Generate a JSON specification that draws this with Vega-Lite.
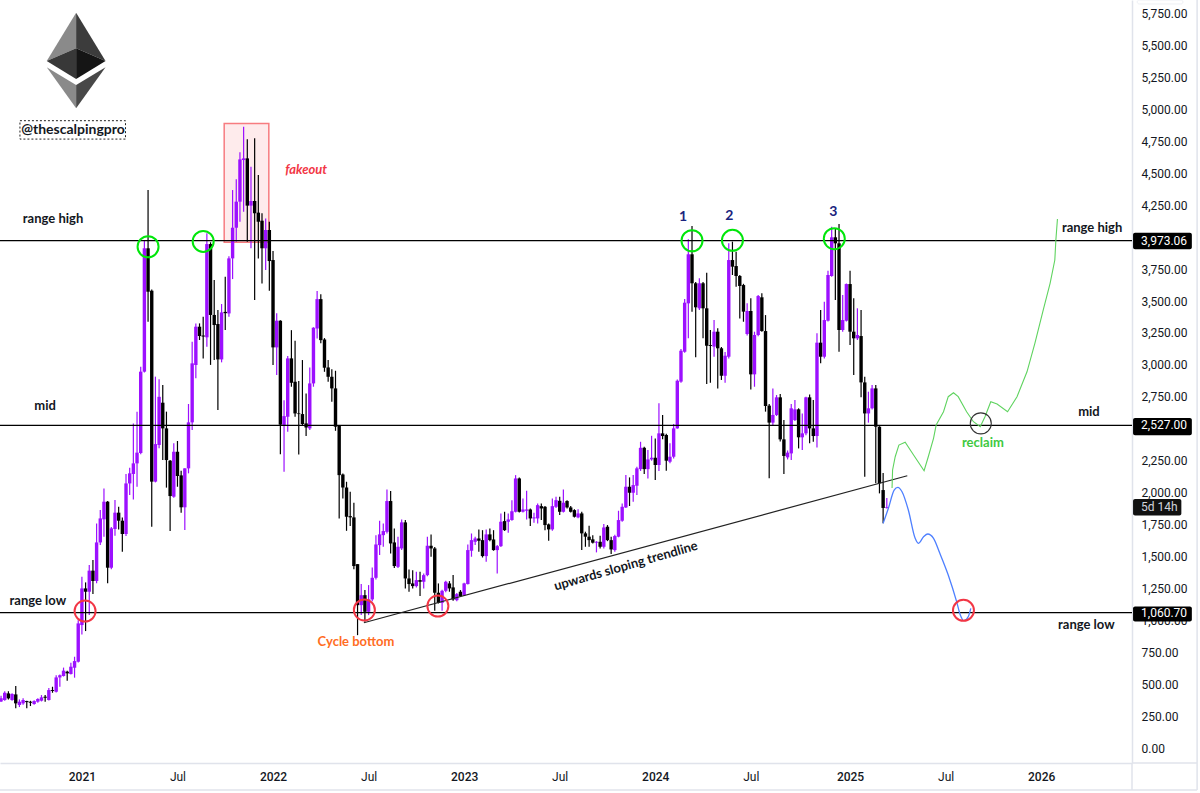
{
  "$schema": "https://vega.github.io/schema/vega-lite/v6.json",
  "width": 1132,
  "height": 763,
  "autosize": "none",
  "padding": {"left": 0, "top": 0, "right": 68, "bottom": 30},
  "background": "white",
  "view": {"stroke": null},
  "config": {"text": {"font": "Lato"}, "scale": {"continuousPadding": 0}},
  "datasets": {
    "candles": [
      {"d":"2020-07-27","o":320,"h":415,"l":300,"c":370},
      {"d":"2020-08-03","o":365,"h":410,"l":360,"c":390},
      {"d":"2020-08-10","o":376,"h":445,"l":370,"c":433},
      {"d":"2020-08-17","o":428,"h":445,"l":380,"c":389},
      {"d":"2020-08-24","o":376,"h":430,"l":370,"c":423},
      {"d":"2020-08-31","o":420,"h":486,"l":311,"c":350},
      {"d":"2020-09-07","o":337,"h":381,"l":321,"c":363},
      {"d":"2020-09-14","o":350,"h":390,"l":340,"c":376},
      {"d":"2020-09-21","o":368,"h":370,"l":311,"c":360},
      {"d":"2020-09-28","o":362,"h":370,"l":329,"c":355},
      {"d":"2020-10-05","o":345,"h":375,"l":340,"c":368},
      {"d":"2020-10-12","o":363,"h":390,"l":355,"c":384},
      {"d":"2020-10-19","o":371,"h":415,"l":365,"c":397},
      {"d":"2020-10-26","o":402,"h":415,"l":363,"c":394},
      {"d":"2020-11-02","o":376,"h":470,"l":372,"c":454},
      {"d":"2020-11-09","o":454,"h":480,"l":433,"c":447},
      {"d":"2020-11-16","o":441,"h":570,"l":435,"c":553},
      {"d":"2020-11-23","o":553,"h":575,"l":480,"c":570},
      {"d":"2020-11-30","o":564,"h":630,"l":560,"c":606},
      {"d":"2020-12-07","o":598,"h":606,"l":527,"c":585},
      {"d":"2020-12-14","o":580,"h":668,"l":575,"c":637},
      {"d":"2020-12-21","o":629,"h":715,"l":551,"c":681},
      {"d":"2020-12-28","o":676,"h":1000,"l":670,"c":976},
      {"d":"2021-01-04","o":963,"h":1342,"l":890,"c":1250},
      {"d":"2021-01-11","o":1250,"h":1297,"l":916,"c":1224},
      {"d":"2021-01-18","o":1224,"h":1433,"l":1042,"c":1389},
      {"d":"2021-01-25","o":1389,"h":1472,"l":1206,"c":1308},
      {"d":"2021-02-01","o":1308,"h":1759,"l":1290,"c":1610},
      {"d":"2021-02-08","o":1610,"h":1864,"l":1590,"c":1798},
      {"d":"2021-02-15","o":1791,"h":2033,"l":1655,"c":1929},
      {"d":"2021-02-22","o":1929,"h":1935,"l":1290,"c":1412},
      {"d":"2021-03-01","o":1412,"h":1730,"l":1400,"c":1720},
      {"d":"2021-03-08","o":1715,"h":1942,"l":1663,"c":1843},
      {"d":"2021-03-15","o":1843,"h":1890,"l":1712,"c":1780},
      {"d":"2021-03-22","o":1780,"h":1806,"l":1537,"c":1676},
      {"d":"2021-03-29","o":1676,"h":2145,"l":1660,"c":2072},
      {"d":"2021-04-05","o":2072,"h":2195,"l":1981,"c":2151},
      {"d":"2021-04-12","o":2146,"h":2542,"l":1947,"c":2229},
      {"d":"2021-04-19","o":2229,"h":2634,"l":2046,"c":2313},
      {"d":"2021-04-26","o":2310,"h":2986,"l":2300,"c":2947},
      {"d":"2021-05-03","o":2947,"h":3978,"l":2940,"c":3913},
      {"d":"2021-05-10","o":3913,"h":4369,"l":3338,"c":3573},
      {"d":"2021-05-17","o":3581,"h":3590,"l":1733,"c":2086},
      {"d":"2021-05-24","o":2086,"h":2908,"l":2080,"c":2380},
      {"d":"2021-05-31","o":2373,"h":2887,"l":2347,"c":2750},
      {"d":"2021-06-07","o":2704,"h":2842,"l":2255,"c":2503},
      {"d":"2021-06-14","o":2503,"h":2634,"l":2039,"c":2255},
      {"d":"2021-06-21","o":2250,"h":2255,"l":1699,"c":1973},
      {"d":"2021-06-28","o":1968,"h":2386,"l":1960,"c":2320},
      {"d":"2021-07-05","o":2320,"h":2404,"l":2046,"c":2130},
      {"d":"2021-07-12","o":2135,"h":2172,"l":1843,"c":1885},
      {"d":"2021-07-19","o":1885,"h":2190,"l":1707,"c":2190},
      {"d":"2021-07-26","o":2190,"h":2694,"l":2151,"c":2550},
      {"d":"2021-08-02","o":2550,"h":3182,"l":2490,"c":3012},
      {"d":"2021-08-09","o":2999,"h":3325,"l":2895,"c":3299},
      {"d":"2021-08-16","o":3299,"h":3325,"l":3195,"c":3226},
      {"d":"2021-08-23","o":3230,"h":3377,"l":3051,"c":3222},
      {"d":"2021-08-30","o":3216,"h":4030,"l":3143,"c":3946},
      {"d":"2021-09-06","o":3946,"h":3960,"l":3000,"c":3391},
      {"d":"2021-09-13","o":3391,"h":3665,"l":3038,"c":3312},
      {"d":"2021-09-20","o":3320,"h":3430,"l":2647,"c":3043},
      {"d":"2021-09-27","o":3043,"h":3477,"l":3020,"c":3411},
      {"d":"2021-10-04","o":3415,"h":3691,"l":3273,"c":3405},
      {"d":"2021-10-11","o":3403,"h":3850,"l":3377,"c":3834},
      {"d":"2021-10-18","o":3834,"h":4369,"l":3672,"c":4074},
      {"d":"2021-10-25","o":4074,"h":4453,"l":3965,"c":4278},
      {"d":"2021-11-01","o":4278,"h":4664,"l":4121,"c":4609},
      {"d":"2021-11-08","o":4604,"h":4865,"l":4200,"c":4617},
      {"d":"2021-11-15","o":4617,"h":4766,"l":3965,"c":4247},
      {"d":"2021-11-22","o":4247,"h":4552,"l":3913,"c":4283},
      {"d":"2021-11-29","o":4283,"h":4774,"l":3508,"c":4187},
      {"d":"2021-12-06","o":4192,"h":4487,"l":3834,"c":4121},
      {"d":"2021-12-13","o":4129,"h":4187,"l":3638,"c":3913},
      {"d":"2021-12-20","o":3913,"h":4147,"l":3743,"c":4056},
      {"d":"2021-12-27","o":4056,"h":4121,"l":3581,"c":3813},
      {"d":"2022-01-03","o":3821,"h":3892,"l":3000,"c":3137},
      {"d":"2022-01-10","o":3137,"h":3404,"l":2921,"c":3346},
      {"d":"2022-01-17","o":3346,"h":3350,"l":2300,"c":2532},
      {"d":"2022-01-24","o":2526,"h":2724,"l":2163,"c":2599},
      {"d":"2022-01-31","o":2594,"h":3069,"l":2476,"c":3051},
      {"d":"2022-02-07","o":3051,"h":3272,"l":2829,"c":2860},
      {"d":"2022-02-14","o":2868,"h":3189,"l":2594,"c":2620},
      {"d":"2022-02-21","o":2620,"h":2873,"l":2299,"c":2615},
      {"d":"2022-02-28","o":2615,"h":3038,"l":2529,"c":2537},
      {"d":"2022-03-07","o":2542,"h":2777,"l":2443,"c":2510},
      {"d":"2022-03-14","o":2503,"h":2980,"l":2490,"c":2855},
      {"d":"2022-03-21","o":2855,"h":3295,"l":2829,"c":3291},
      {"d":"2022-03-28","o":3285,"h":3578,"l":3207,"c":3515},
      {"d":"2022-04-04","o":3515,"h":3554,"l":3170,"c":3194},
      {"d":"2022-04-11","o":3199,"h":3210,"l":2946,"c":2978},
      {"d":"2022-04-18","o":2980,"h":3038,"l":2868,"c":2907},
      {"d":"2022-04-25","o":2907,"h":2965,"l":2711,"c":2816},
      {"d":"2022-05-02","o":2816,"h":2954,"l":2484,"c":2516},
      {"d":"2022-05-09","o":2523,"h":2530,"l":1798,"c":2137},
      {"d":"2022-05-16","o":2142,"h":2150,"l":1954,"c":2040},
      {"d":"2022-05-23","o":2040,"h":2085,"l":1701,"c":1811},
      {"d":"2022-05-30","o":1816,"h":2007,"l":1738,"c":1806},
      {"d":"2022-06-06","o":1806,"h":1921,"l":1400,"c":1425},
      {"d":"2022-06-13","o":1440,"h":1440,"l":884,"c":1119},
      {"d":"2022-06-20","o":1119,"h":1284,"l":1041,"c":1197},
      {"d":"2022-06-27","o":1197,"h":1237,"l":989,"c":1067},
      {"d":"2022-07-04","o":1067,"h":1276,"l":1041,"c":1164},
      {"d":"2022-07-11","o":1164,"h":1414,"l":1150,"c":1333},
      {"d":"2022-07-18","o":1333,"h":1667,"l":1320,"c":1594},
      {"d":"2022-07-25","o":1589,"h":1780,"l":1511,"c":1673},
      {"d":"2022-08-01","o":1667,"h":1759,"l":1576,"c":1699},
      {"d":"2022-08-08","o":1693,"h":2025,"l":1680,"c":1934},
      {"d":"2022-08-15","o":1934,"h":2012,"l":1524,"c":1602},
      {"d":"2022-08-22","o":1610,"h":1720,"l":1410,"c":1425},
      {"d":"2022-08-29","o":1419,"h":1654,"l":1410,"c":1576},
      {"d":"2022-09-05","o":1563,"h":1790,"l":1550,"c":1767},
      {"d":"2022-09-12","o":1767,"h":1785,"l":1250,"c":1328},
      {"d":"2022-09-19","o":1328,"h":1399,"l":1224,"c":1284},
      {"d":"2022-09-26","o":1289,"h":1393,"l":1250,"c":1268},
      {"d":"2022-10-03","o":1268,"h":1380,"l":1258,"c":1315},
      {"d":"2022-10-10","o":1315,"h":1380,"l":1190,"c":1302},
      {"d":"2022-10-17","o":1302,"h":1367,"l":1250,"c":1354},
      {"d":"2022-10-24","o":1354,"h":1654,"l":1345,"c":1584},
      {"d":"2022-10-31","o":1584,"h":1673,"l":1498,"c":1563},
      {"d":"2022-11-07","o":1563,"h":1575,"l":1075,"c":1216},
      {"d":"2022-11-14","o":1216,"h":1289,"l":1132,"c":1137},
      {"d":"2022-11-21","o":1137,"h":1240,"l":1075,"c":1231},
      {"d":"2022-11-28","o":1231,"h":1310,"l":1220,"c":1302},
      {"d":"2022-12-05","o":1289,"h":1307,"l":1224,"c":1250},
      {"d":"2022-12-12","o":1258,"h":1354,"l":1153,"c":1164},
      {"d":"2022-12-19","o":1158,"h":1215,"l":1150,"c":1205},
      {"d":"2022-12-26","o":1224,"h":1237,"l":1184,"c":1190},
      {"d":"2023-01-02","o":1197,"h":1295,"l":1190,"c":1289},
      {"d":"2023-01-09","o":1284,"h":1594,"l":1280,"c":1550},
      {"d":"2023-01-16","o":1545,"h":1680,"l":1498,"c":1628},
      {"d":"2023-01-23","o":1615,"h":1654,"l":1590,"c":1641},
      {"d":"2023-01-30","o":1641,"h":1712,"l":1537,"c":1623},
      {"d":"2023-02-06","o":1628,"h":1706,"l":1492,"c":1503},
      {"d":"2023-02-13","o":1503,"h":1712,"l":1458,"c":1673},
      {"d":"2023-02-20","o":1673,"h":1719,"l":1620,"c":1628},
      {"d":"2023-02-27","o":1633,"h":1706,"l":1545,"c":1550},
      {"d":"2023-03-06","o":1550,"h":1590,"l":1367,"c":1581},
      {"d":"2023-03-13","o":1581,"h":1837,"l":1575,"c":1772},
      {"d":"2023-03-20","o":1777,"h":1850,"l":1700,"c":1706},
      {"d":"2023-03-27","o":1772,"h":1837,"l":1686,"c":1790},
      {"d":"2023-04-03","o":1785,"h":1941,"l":1780,"c":1855},
      {"d":"2023-04-10","o":1850,"h":2137,"l":1845,"c":2111},
      {"d":"2023-04-17","o":2111,"h":2119,"l":1845,"c":1850},
      {"d":"2023-04-24","o":1850,"h":1954,"l":1845,"c":1868},
      {"d":"2023-05-01","o":1858,"h":2014,"l":1790,"c":1868},
      {"d":"2023-05-08","o":1868,"h":1876,"l":1738,"c":1798},
      {"d":"2023-05-15","o":1798,"h":1842,"l":1764,"c":1806},
      {"d":"2023-05-22","o":1798,"h":1915,"l":1759,"c":1902},
      {"d":"2023-05-29","o":1894,"h":1915,"l":1785,"c":1876},
      {"d":"2023-06-05","o":1889,"h":1895,"l":1706,"c":1746},
      {"d":"2023-06-12","o":1751,"h":1759,"l":1623,"c":1712},
      {"d":"2023-06-19","o":1712,"h":1954,"l":1701,"c":1894},
      {"d":"2023-06-26","o":1889,"h":1967,"l":1880,"c":1941},
      {"d":"2023-07-03","o":1936,"h":1967,"l":1824,"c":1850},
      {"d":"2023-07-10","o":1850,"h":2025,"l":1845,"c":1921},
      {"d":"2023-07-17","o":1934,"h":1941,"l":1876,"c":1884},
      {"d":"2023-07-24","o":1884,"h":1895,"l":1845,"c":1850},
      {"d":"2023-07-31","o":1863,"h":1870,"l":1805,"c":1811},
      {"d":"2023-08-07","o":1806,"h":1870,"l":1800,"c":1837},
      {"d":"2023-08-14","o":1837,"h":1850,"l":1550,"c":1681},
      {"d":"2023-08-21","o":1681,"h":1694,"l":1576,"c":1655},
      {"d":"2023-08-28","o":1655,"h":1741,"l":1576,"c":1628},
      {"d":"2023-09-04","o":1634,"h":1667,"l":1602,"c":1608},
      {"d":"2023-09-11","o":1608,"h":1620,"l":1532,"c":1615},
      {"d":"2023-09-18","o":1615,"h":1662,"l":1563,"c":1576},
      {"d":"2023-09-25","o":1576,"h":1754,"l":1563,"c":1727},
      {"d":"2023-10-02","o":1733,"h":1746,"l":1620,"c":1628},
      {"d":"2023-10-09","o":1628,"h":1654,"l":1519,"c":1555},
      {"d":"2023-10-16","o":1550,"h":1670,"l":1537,"c":1660},
      {"d":"2023-10-23","o":1655,"h":1858,"l":1650,"c":1785},
      {"d":"2023-10-30","o":1780,"h":1915,"l":1772,"c":1889},
      {"d":"2023-11-06","o":1884,"h":2137,"l":1880,"c":2046},
      {"d":"2023-11-13","o":2046,"h":2119,"l":1895,"c":1999},
      {"d":"2023-11-20","o":1999,"h":2137,"l":1929,"c":2059},
      {"d":"2023-11-27","o":2054,"h":2203,"l":1981,"c":2190},
      {"d":"2023-12-04","o":2184,"h":2398,"l":2170,"c":2351},
      {"d":"2023-12-11","o":2351,"h":2360,"l":2145,"c":2184},
      {"d":"2023-12-18","o":2184,"h":2333,"l":2111,"c":2260},
      {"d":"2023-12-25","o":2260,"h":2445,"l":2250,"c":2273},
      {"d":"2024-01-01","o":2273,"h":2424,"l":2098,"c":2216},
      {"d":"2024-01-08","o":2216,"h":2700,"l":2169,"c":2464},
      {"d":"2024-01-15","o":2464,"h":2607,"l":2417,"c":2443},
      {"d":"2024-01-22","o":2451,"h":2460,"l":2172,"c":2250},
      {"d":"2024-01-29","o":2242,"h":2386,"l":2229,"c":2281},
      {"d":"2024-02-05","o":2281,"h":2537,"l":2268,"c":2503},
      {"d":"2024-02-12","o":2503,"h":2885,"l":2500,"c":2876},
      {"d":"2024-02-19","o":2869,"h":3125,"l":2860,"c":3111},
      {"d":"2024-02-26","o":3103,"h":3516,"l":3095,"c":3487},
      {"d":"2024-03-04","o":3482,"h":3983,"l":3208,"c":3866},
      {"d":"2024-03-11","o":3866,"h":4087,"l":3417,"c":3639},
      {"d":"2024-03-18","o":3639,"h":3650,"l":3059,"c":3451},
      {"d":"2024-03-25","o":3443,"h":3678,"l":3430,"c":3639},
      {"d":"2024-04-01","o":3639,"h":3650,"l":3208,"c":3443},
      {"d":"2024-04-08","o":3443,"h":3722,"l":2850,"c":3150},
      {"d":"2024-04-15","o":3155,"h":3273,"l":2861,"c":3148},
      {"d":"2024-04-22","o":3143,"h":3351,"l":3064,"c":3260},
      {"d":"2024-04-29","o":3260,"h":3286,"l":2816,"c":3130},
      {"d":"2024-05-06","o":3130,"h":3140,"l":2882,"c":2915},
      {"d":"2024-05-13","o":2915,"h":3100,"l":2861,"c":3072},
      {"d":"2024-05-20","o":3064,"h":3952,"l":3051,"c":3821},
      {"d":"2024-05-27","o":3821,"h":3965,"l":3704,"c":3769},
      {"d":"2024-06-03","o":3774,"h":3886,"l":3612,"c":3696},
      {"d":"2024-06-10","o":3696,"h":3704,"l":3364,"c":3618},
      {"d":"2024-06-17","o":3625,"h":3635,"l":3338,"c":3417},
      {"d":"2024-06-24","o":3242,"h":3482,"l":3230,"c":3422},
      {"d":"2024-07-01","o":3422,"h":3521,"l":2808,"c":2926},
      {"d":"2024-07-08","o":2926,"h":3260,"l":2829,"c":3234},
      {"d":"2024-07-15","o":3234,"h":3547,"l":3225,"c":3539},
      {"d":"2024-07-22","o":3529,"h":3560,"l":3260,"c":3265},
      {"d":"2024-07-29","o":3265,"h":3390,"l":2634,"c":2678},
      {"d":"2024-08-05","o":2681,"h":2694,"l":2112,"c":2548},
      {"d":"2024-08-12","o":2548,"h":2816,"l":2521,"c":2608},
      {"d":"2024-08-19","o":2608,"h":2764,"l":2600,"c":2746},
      {"d":"2024-08-26","o":2746,"h":2772,"l":2400,"c":2417},
      {"d":"2024-09-02","o":2417,"h":2568,"l":2145,"c":2287},
      {"d":"2024-09-09","o":2276,"h":2330,"l":2260,"c":2313},
      {"d":"2024-09-16","o":2307,"h":2694,"l":2255,"c":2660},
      {"d":"2024-09-23","o":2568,"h":2725,"l":2560,"c":2652},
      {"d":"2024-09-30","o":2652,"h":2660,"l":2346,"c":2433},
      {"d":"2024-10-07","o":2433,"h":2620,"l":2333,"c":2464},
      {"d":"2024-10-14","o":2464,"h":2750,"l":2450,"c":2746},
      {"d":"2024-10-21","o":2746,"h":2769,"l":2386,"c":2503},
      {"d":"2024-10-28","o":2503,"h":2725,"l":2399,"c":2443},
      {"d":"2024-11-04","o":2443,"h":3247,"l":2354,"c":3174},
      {"d":"2024-11-11","o":3174,"h":3430,"l":3012,"c":3064},
      {"d":"2024-11-18","o":3064,"h":3495,"l":3050,"c":3351},
      {"d":"2024-11-25","o":3346,"h":3738,"l":3340,"c":3704},
      {"d":"2024-12-02","o":3696,"h":4082,"l":3690,"c":3999},
      {"d":"2024-12-09","o":3999,"h":4069,"l":3508,"c":3952},
      {"d":"2024-12-16","o":3952,"h":4103,"l":3103,"c":3273},
      {"d":"2024-12-23","o":3273,"h":3547,"l":3260,"c":3351},
      {"d":"2024-12-30","o":3346,"h":3638,"l":3340,"c":3633},
      {"d":"2025-01-06","o":3633,"h":3738,"l":3156,"c":3260},
      {"d":"2025-01-13","o":3260,"h":3521,"l":2921,"c":3208},
      {"d":"2025-01-20","o":3208,"h":3443,"l":3195,"c":3234},
      {"d":"2025-01-27","o":3226,"h":3430,"l":2746,"c":2863},
      {"d":"2025-02-03","o":2863,"h":2908,"l":2125,"c":2620},
      {"d":"2025-02-10","o":2620,"h":2790,"l":2548,"c":2660},
      {"d":"2025-02-17","o":2660,"h":2842,"l":2650,"c":2816},
      {"d":"2025-02-24","o":2816,"h":2842,"l":2073,"c":2516},
      {"d":"2025-03-03","o":2516,"h":2520,"l":1994,"c":2073},
      {"d":"2025-03-10","o":2020,"h":2153,"l":1760,"c":1880},
      {"d":"2025-03-17","o":1879,"h":1957,"l":1875,"c":1885}
    ],
    "levels": [{"p":3973.06},{"p":2527},{"p":1060.7}],
    "trend": [{"d":"2022-06-25","p":981},{"d":"2025-04-25","p":2132}],
    "up": [
      {"d":"2025-03-27","p":2036},{"d":"2025-03-28","p":2177},{"d":"2025-04-02","p":2281},{"d":"2025-04-09","p":2372},
      {"d":"2025-04-21","p":2394},{"d":"2025-05-07","p":2294},{"d":"2025-05-27","p":2171},{"d":"2025-06-04","p":2281},
      {"d":"2025-06-14","p":2425},{"d":"2025-06-19","p":2529},{"d":"2025-07-03","p":2633},{"d":"2025-07-12","p":2751},
      {"d":"2025-07-22","p":2782},{"d":"2025-07-31","p":2751},{"d":"2025-08-16","p":2633},{"d":"2025-08-29","p":2555},
      {"d":"2025-09-11","p":2516},{"d":"2025-09-20","p":2594},{"d":"2025-10-01","p":2712},{"d":"2025-10-13","p":2694},
      {"d":"2025-11-02","p":2633},{"d":"2025-11-20","p":2751},{"d":"2025-12-09","p":2946},{"d":"2025-12-24","p":3169},
      {"d":"2026-01-09","p":3430},{"d":"2026-01-22","p":3639},{"d":"2026-01-31","p":3821},{"d":"2026-02-02","p":3978},
      {"d":"2026-02-05","p":4142}
    ],
    "down": [
      {"d":"2025-03-10","p":1759},{"d":"2025-03-20","p":1877},{"d":"2025-03-31","p":2020},{"d":"2025-04-07","p":2041},
      {"d":"2025-04-15","p":2007},{"d":"2025-04-27","p":1864},{"d":"2025-05-10","p":1642},{"d":"2025-05-16","p":1603},
      {"d":"2025-05-26","p":1654},{"d":"2025-06-03","p":1676},{"d":"2025-06-14","p":1642},{"d":"2025-06-26","p":1525},
      {"d":"2025-07-12","p":1355},{"d":"2025-07-28","p":1146},{"d":"2025-08-04","p":1041},{"d":"2025-08-11","p":997},
      {"d":"2025-08-19","p":1028},{"d":"2025-08-24","p":1094}
    ],
    "circles": [
      {"d":"2021-05-10","p":3925,"kind":"high"},{"d":"2021-08-23","p":3967,"kind":"high"},
      {"d":"2024-03-11","p":3972,"kind":"high"},{"d":"2024-05-27","p":3975,"kind":"high"},
      {"d":"2024-12-07","p":3988,"kind":"high"},
      {"d":"2021-01-10","p":1073,"kind":"low"},{"d":"2022-06-26","p":1081,"kind":"low"},
      {"d":"2022-11-13","p":1112,"kind":"low"},{"d":"2025-08-10","p":1078,"kind":"low"}
    ],
    "reclaim": [{"d":"2025-09-12","p":2542}],
    "logo": [
      {"d":"2020-10-29","top":5379,"bot":5379,"facet":"a"},{"d":"2020-12-24","top":5757,"bot":5479,"facet":"a"},
      {"d":"2020-12-24","top":5757,"bot":5479,"facet":"b"},{"d":"2021-02-18","top":5379,"bot":5379,"facet":"b"},
      {"d":"2020-10-29","top":5379,"bot":5379,"facet":"c"},{"d":"2020-12-24","top":5479,"bot":5238,"facet":"c"},
      {"d":"2020-12-24","top":5479,"bot":5238,"facet":"d"},{"d":"2021-02-18","top":5379,"bot":5379,"facet":"d"},
      {"d":"2020-10-29","top":5330,"bot":5330,"facet":"e"},{"d":"2020-12-24","top":5191,"bot":5009,"facet":"e"},
      {"d":"2020-12-24","top":5191,"bot":5009,"facet":"f"},{"d":"2021-02-18","top":5330,"bot":5330,"facet":"f"}
    ],
    "texts": [
      {"d":"2020-11-10","p":4142,"t":"range high"},
      {"d":"2020-10-26","p":2678,"t":"mid"},
      {"d":"2020-10-12","p":1151,"t":"range low"},
      {"d":"2026-04-12","p":4072,"t":"range high"},
      {"d":"2026-04-06","p":2631,"t":"mid"},
      {"d":"2026-04-01","p":963,"t":"range low"}
    ],
    "counts": [
      {"d":"2024-02-23","p":4158,"t":"1"},
      {"d":"2024-05-21","p":4166,"t":"2"},
      {"d":"2024-12-05","p":4197,"t":"3"}
    ],
    "frame": [
      {"x":"2026-06-27","x2":"2026-06-27","y":-117,"y2":-329},
      {"x":"2026-06-27","x2":"2026-10-29","y":-117,"y2":-117},
      {"x":"2020-08-01","x2":"2026-10-29","y":-329,"y2":-329},
      {"x":"2026-10-29","x2":"2026-10-29","y":5857,"y2":-329}
    ],
    "badges": [
      {"d":"2026-06-29","d2":"2026-10-19","p":3973.06,"top":4035,"bot":3905,"t":"3,973.06"},
      {"d":"2026-06-29","d2":"2026-10-19","p":2527,"top":2585,"bot":2450,"t":"2,527.00"},
      {"d":"2026-06-29","d2":"2026-10-19","p":1060.7,"top":1108,"bot":990,"t":"1,060.70"}
    ],
    "timer": [{"d":"2026-06-29","d2":"2026-09-29","top":1950,"bot":1820,"p":1885,"t":"5d 14h"}]
  },
  "layer": [
    {
      "data": {"name": "logo"},
      "mark": {"type": "area", "interpolate": "linear", "opacity": 1},
      "encoding": {
        "x": {
          "field": "d", "type": "temporal",
          "scale": {"domain": ["2020-08-01", "2026-06-27"]},
          "axis": {
            "title": null, "grid": false, "ticks": false, "labelPadding": 8,
            "domainColor": "#e0e3eb", "domainWidth": 1.5,
            "labelFont": "Roboto", "labelFontSize": 12, "labelColor": "#131722",
            "labelFontWeight": {"condition": {"test": "month(datum.value) == 0", "value": 500}, "value": 400},
            "labelOverlap": false,
            "values": [
              {"year":2021,"month":1,"date":4},{"year":2021,"month":7,"date":5},
              {"year":2022,"month":1,"date":3},{"year":2022,"month":7,"date":4},
              {"year":2023,"month":1,"date":2},{"year":2023,"month":7,"date":3},
              {"year":2024,"month":1,"date":1},{"year":2024,"month":7,"date":1},
              {"year":2025,"month":1,"date":6},{"year":2025,"month":7,"date":7},
              {"year":2026,"month":1,"date":5}
            ],
            "labelExpr": "month(datum.value) == 0 ? timeFormat(datum.value, '%Y') : timeFormat(datum.value, '%b')"
          }
        },
        "y": {
          "field": "top", "type": "quantitative",
          "scale": {"domain": [-117, 5857], "nice": false, "zero": false},
          "axis": {
            "title": null, "orient": "right", "grid": false, "ticks": false,
            "domainColor": "#e0e3eb", "domainWidth": 1.5, "labelPadding": 9,
            "labelFont": "Roboto", "labelFontSize": 12, "labelColor": "#131722",
            "format": ",.2f", "labelOverlap": false, "labelFlush": false, "tickCount": 30,
            "values": [0,250,500,750,1000,1250,1500,1750,2000,2250,2500,2750,3000,3250,3500,3750,4000,4250,4500,4750,5000,5250,5500,5750]
          }
        },
        "y2": {"field": "bot"},
        "color": {
          "field": "facet", "type": "nominal", "legend": null,
          "scale": {"domain": ["a","b","c","d","e","f"], "range": ["#8a8a8a","#3c3c3c","#383838","#151515","#8a8a8a","#484848"]}
        }
      }
    },
    {
      "data": {"values": [{"d":"2021-10-02","d2":"2021-12-26","top":4891,"bot":3960}]},
      "mark": {"type": "rect", "fill": "#f23645", "fillOpacity": 0.1, "stroke": "#f77c80", "strokeWidth": 1.5},
      "encoding": {
        "x": {"field": "d", "type": "temporal", "scale": {"domain": ["2020-08-01", "2026-06-27"]}},
        "x2": {"field": "d2"},
        "y": {"field": "top", "type": "quantitative", "scale": {"domain": [-117, 5857], "nice": false, "zero": false}},
        "y2": {"field": "bot"}
      }
    },
    {
      "data": {"name": "candles"},
      "mark": {"type": "rule", "strokeWidth": 1.2},
      "encoding": {
        "x": {"field": "d", "type": "temporal", "scale": {"domain": ["2020-08-01", "2026-06-27"]}},
        "y": {"field": "l", "type": "quantitative", "scale": {"domain": [-117, 5857], "nice": false, "zero": false}},
        "y2": {"field": "h"},
        "color": {"condition": {"test": "datum.c >= datum.o", "value": "#9c10ff"}, "value": "#000000"}
      }
    },
    {
      "data": {"name": "candles"},
      "mark": {"type": "bar", "size": 3.4},
      "encoding": {
        "x": {"field": "d", "type": "temporal", "scale": {"domain": ["2020-08-01", "2026-06-27"]}},
        "y": {"field": "o", "type": "quantitative", "scale": {"domain": [-117, 5857], "nice": false, "zero": false}},
        "y2": {"field": "c"},
        "color": {"condition": {"test": "datum.c >= datum.o", "value": "#9c10ff"}, "value": "#000000"}
      }
    },
    {
      "data": {"name": "levels"},
      "mark": {"type": "rule", "color": "#000000", "strokeWidth": 1.2},
      "encoding": {
        "y": {"field": "p", "type": "quantitative", "scale": {"domain": [-117, 5857], "nice": false, "zero": false}}
      }
    },
    {
      "data": {"name": "trend"},
      "mark": {"type": "line", "color": "#222222", "strokeWidth": 1.2},
      "encoding": {
        "x": {"field": "d", "type": "temporal", "scale": {"domain": ["2020-08-01", "2026-06-27"]}},
        "y": {"field": "p", "type": "quantitative", "scale": {"domain": [-117, 5857], "nice": false, "zero": false}}
      }
    },
    {
      "data": {"name": "up"},
      "mark": {"type": "line", "color": "#5fd35f", "strokeWidth": 1.1},
      "encoding": {
        "x": {"field": "d", "type": "temporal", "scale": {"domain": ["2020-08-01", "2026-06-27"]}},
        "y": {"field": "p", "type": "quantitative", "scale": {"domain": [-117, 5857], "nice": false, "zero": false}}
      }
    },
    {
      "data": {"name": "down"},
      "mark": {"type": "line", "color": "#4d7fff", "strokeWidth": 1.3, "interpolate": "monotone"},
      "encoding": {
        "x": {"field": "d", "type": "temporal", "scale": {"domain": ["2020-08-01", "2026-06-27"]}},
        "y": {"field": "p", "type": "quantitative", "scale": {"domain": [-117, 5857], "nice": false, "zero": false}}
      }
    },
    {
      "data": {"name": "circles"},
      "mark": {"type": "point", "shape": "circle", "filled": false, "size": 441, "strokeWidth": 2, "opacity": 1},
      "encoding": {
        "x": {"field": "d", "type": "temporal", "scale": {"domain": ["2020-08-01", "2026-06-27"]}},
        "y": {"field": "p", "type": "quantitative", "scale": {"domain": [-117, 5857], "nice": false, "zero": false}},
        "stroke": {"field": "kind", "type": "nominal", "legend": null, "scale": {"domain": ["high", "low"], "range": ["#00e60a", "#f23645"]}}
      }
    },
    {
      "data": {"name": "reclaim"},
      "mark": {"type": "point", "shape": "circle", "filled": false, "size": 441, "strokeWidth": 1.1, "color": "#333333", "opacity": 1},
      "encoding": {
        "x": {"field": "d", "type": "temporal", "scale": {"domain": ["2020-08-01", "2026-06-27"]}},
        "y": {"field": "p", "type": "quantitative", "scale": {"domain": [-117, 5857], "nice": false, "zero": false}}
      }
    },
    {
      "data": {"values": [{"d":"2020-09-08","d2":"2021-03-28","top":4912,"bot":4768}]},
      "mark": {"type": "rect", "fill": null, "stroke": "#222222", "strokeWidth": 1, "strokeDash": [2, 2]},
      "encoding": {
        "x": {"field": "d", "type": "temporal", "scale": {"domain": ["2020-08-01", "2026-06-27"]}},
        "x2": {"field": "d2"},
        "y": {"field": "top", "type": "quantitative", "scale": {"domain": [-117, 5857], "nice": false, "zero": false}},
        "y2": {"field": "bot"}
      }
    },
    {
      "data": {"values": [{"d":"2026-07-07","d2":"2026-10-02","top":5857,"bot":5826}]},
      "mark": {"type": "rect", "fill": null, "stroke": "#eef0f5", "strokeWidth": 1, "cornerRadius": 3},
      "encoding": {
        "x": {"field": "d", "type": "temporal", "scale": {"domain": ["2020-08-01", "2026-06-27"]}},
        "x2": {"field": "d2"},
        "y": {"field": "top", "type": "quantitative", "scale": {"domain": [-117, 5857], "nice": false, "zero": false}},
        "y2": {"field": "bot"}
      }
    },
    {
      "data": {"name": "texts"},
      "mark": {"type": "text", "fontSize": 13, "fontWeight": "bold", "color": "#131722"},
      "encoding": {
        "x": {"field": "d", "type": "temporal", "scale": {"domain": ["2020-08-01", "2026-06-27"]}},
        "y": {"field": "p", "type": "quantitative", "scale": {"domain": [-117, 5857], "nice": false, "zero": false}},
        "text": {"field": "t"}
      }
    },
    {
      "data": {"values": [{"d":"2020-12-18","p":4843,"t":"@thescalpingpro"}]},
      "mark": {"type": "text", "fontSize": 14, "fontWeight": "bold", "color": "#131722"},
      "encoding": {
        "x": {"field": "d", "type": "temporal", "scale": {"domain": ["2020-08-01", "2026-06-27"]}},
        "y": {"field": "p", "type": "quantitative", "scale": {"domain": [-117, 5857], "nice": false, "zero": false}},
        "text": {"field": "t"}
      }
    },
    {
      "data": {"name": "counts"},
      "mark": {"type": "text", "fontSize": 14, "fontWeight": "bold", "color": "#1a237e"},
      "encoding": {
        "x": {"field": "d", "type": "temporal", "scale": {"domain": ["2020-08-01", "2026-06-27"]}},
        "y": {"field": "p", "type": "quantitative", "scale": {"domain": [-117, 5857], "nice": false, "zero": false}},
        "text": {"field": "t"}
      }
    },
    {
      "data": {"values": [{"d":"2022-03-07","p":4526,"t":"fakeout"}]},
      "mark": {"type": "text", "fontSize": 13, "fontStyle": "italic", "fontWeight": "bold", "color": "#f23645"},
      "encoding": {
        "x": {"field": "d", "type": "temporal", "scale": {"domain": ["2020-08-01", "2026-06-27"]}},
        "y": {"field": "p", "type": "quantitative", "scale": {"domain": [-117, 5857], "nice": false, "zero": false}},
        "text": {"field": "t"}
      }
    },
    {
      "data": {"values": [{"d":"2025-09-16","p":2388,"t":"reclaim"}]},
      "mark": {"type": "text", "fontSize": 13, "fontWeight": "bold", "color": "#3fc93f"},
      "encoding": {
        "x": {"field": "d", "type": "temporal", "scale": {"domain": ["2020-08-01", "2026-06-27"]}},
        "y": {"field": "p", "type": "quantitative", "scale": {"domain": [-117, 5857], "nice": false, "zero": false}},
        "text": {"field": "t"}
      }
    },
    {
      "data": {"values": [{"d":"2022-06-10","p":830,"t":"Cycle bottom"}]},
      "mark": {"type": "text", "fontSize": 13, "fontWeight": "bold", "color": "#ff6d1f"},
      "encoding": {
        "x": {"field": "d", "type": "temporal", "scale": {"domain": ["2020-08-01", "2026-06-27"]}},
        "y": {"field": "p", "type": "quantitative", "scale": {"domain": [-117, 5857], "nice": false, "zero": false}},
        "text": {"field": "t"}
      }
    },
    {
      "data": {"values": [{"d":"2023-11-06","p":1425,"t":"upwards sloping trendline"}]},
      "mark": {"type": "text", "fontSize": 13, "fontWeight": "bold", "color": "#131722", "angle": 344},
      "encoding": {
        "x": {"field": "d", "type": "temporal", "scale": {"domain": ["2020-08-01", "2026-06-27"]}},
        "y": {"field": "p", "type": "quantitative", "scale": {"domain": [-117, 5857], "nice": false, "zero": false}},
        "text": {"field": "t"}
      }
    },
    {
      "data": {"name": "frame"},
      "mark": {"type": "rule", "color": "#e0e3eb", "strokeWidth": 1.5},
      "encoding": {
        "x": {"field": "x", "type": "temporal", "scale": {"domain": ["2020-08-01", "2026-06-27"]}},
        "x2": {"field": "x2"},
        "y": {"field": "y", "type": "quantitative", "scale": {"domain": [-117, 5857], "nice": false, "zero": false}},
        "y2": {"field": "y2"}
      }
    },
    {
      "data": {"name": "badges"},
      "mark": {"type": "rect", "fill": "#000000", "cornerRadius": 2},
      "encoding": {
        "x": {"field": "d", "type": "temporal", "scale": {"domain": ["2020-08-01", "2026-06-27"]}},
        "x2": {"field": "d2"},
        "y": {"field": "top", "type": "quantitative", "scale": {"domain": [-117, 5857], "nice": false, "zero": false}},
        "y2": {"field": "bot"}
      }
    },
    {
      "data": {"name": "badges"},
      "mark": {"type": "text", "font": "Roboto", "fontSize": 12, "color": "#ffffff", "align": "left", "dx": 8},
      "encoding": {
        "x": {"field": "d", "type": "temporal", "scale": {"domain": ["2020-08-01", "2026-06-27"]}},
        "y": {"field": "p", "type": "quantitative", "scale": {"domain": [-117, 5857], "nice": false, "zero": false}},
        "text": {"field": "t"}
      }
    },
    {
      "data": {"name": "timer"},
      "mark": {"type": "rect", "fill": "#111111", "cornerRadius": 2},
      "encoding": {
        "x": {"field": "d", "type": "temporal", "scale": {"domain": ["2020-08-01", "2026-06-27"]}},
        "x2": {"field": "d2"},
        "y": {"field": "top", "type": "quantitative", "scale": {"domain": [-117, 5857], "nice": false, "zero": false}},
        "y2": {"field": "bot"}
      }
    },
    {
      "data": {"name": "timer"},
      "mark": {"type": "text", "font": "Roboto", "fontSize": 12, "color": "#d1d4dc", "align": "left", "dx": 8},
      "encoding": {
        "x": {"field": "d", "type": "temporal", "scale": {"domain": ["2020-08-01", "2026-06-27"]}},
        "y": {"field": "p", "type": "quantitative", "scale": {"domain": [-117, 5857], "nice": false, "zero": false}},
        "text": {"field": "t"}
      }
    }
  ],
  "resolve": {"scale": {"color": "independent"}}
}
